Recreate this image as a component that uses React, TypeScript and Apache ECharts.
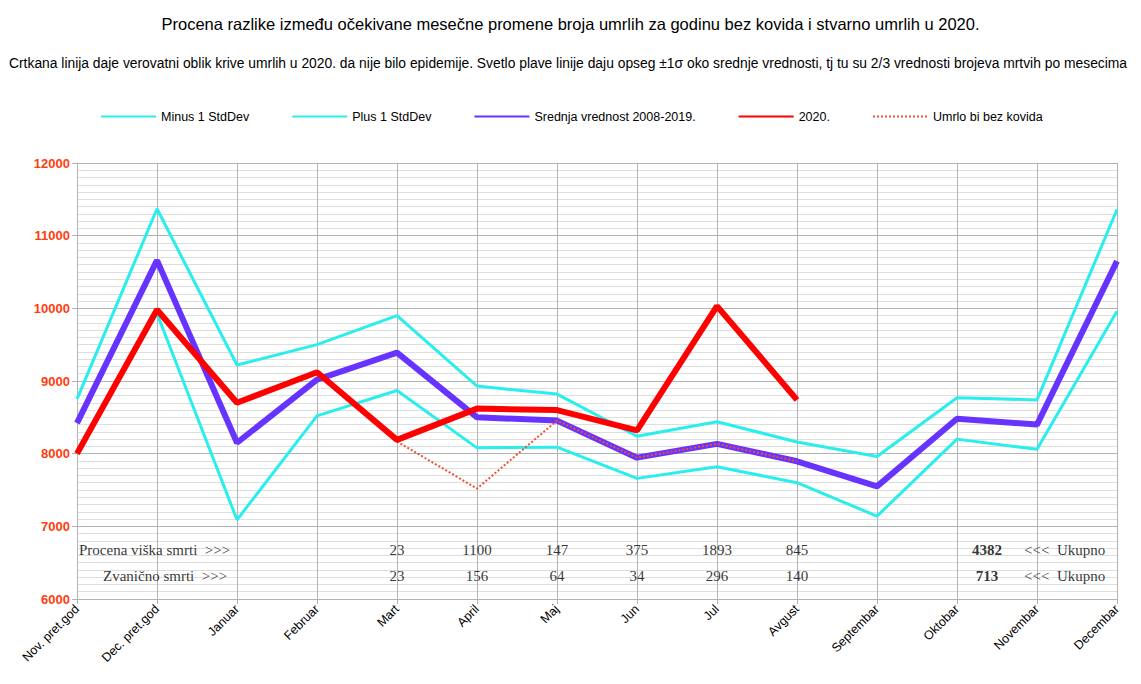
import React, { useEffect, useRef } from "react";
import * as echarts from "echarts";

const categories = [
  "Nov. pret.god", "Dec. pret.god", "Januar", "Februar", "Mart", "April", "Maj",
  "Jun", "Jul", "Avgust", "Septembar", "Oktobar", "Novembar", "Decembar",
];
const minus1 = [8020, 9930, 7090, 8520, 8870, 8080, 8090, 7660, 7820, 7600, 7140, 8200, 8060, 9960];
const plus1 = [8750, 11370, 9220, 9500, 9900, 8930, 8820, 8240, 8440, 8160, 7960, 8770, 8740, 11360];
const mean = [8420, 10660, 8150, 9020, 9390, 8500, 8455, 7945, 8135, 7895, 7550, 8480, 8400, 10650];
const y2020 = [8000, 9980, 8700, 9120, 8190, 8620, 8600, 8320, 10030, 8740, null, null, null, null];
const noCovid = [null, null, null, null, 8167, 7520, 8455, 7945, 8135, 7895, null, null, null, null];

const excessLabels = ["", "", "", "", "23", "1100", "147", "375", "1893", "845", "", "", "", ""];
const officialLabels = ["", "", "", "", "23", "156", "64", "34", "296", "140", "", "", "", ""];
const excessTotal = "4382";
const officialTotal = "713";
const row1Value = 6675;
const row2Value = 6320;

const title = "Procena razlike između očekivane mesečne promene broja umrlih za godinu bez kovida i stvarno umrlih u 2020.";
const subtitle = "Crtkana linija daje verovatni oblik krive umrlih u 2020. da nije bilo epidemije. Svetlo plave linije daju opseg ±1σ oko srednje vrednosti, tj tu su 2/3 vrednosti brojeva mrtvih po mesecima";

export default function App() {
  const ref = useRef<HTMLDivElement>(null);
  useEffect(() => {
    const chart = echarts.init(ref.current!, null, { renderer: "svg" });
    const serif = "'Liberation Serif', 'DejaVu Serif', serif";
    const sans = "'Liberation Sans', Arial, sans-serif";
    const numData = (labels: string[], v: number) =>
      labels.map((l, i) => (l ? { value: [categories[i], v], label: { formatter: l } } : null)).filter(Boolean);
    chart.setOption({
      animation: false,
      backgroundColor: "#ffffff",
      textStyle: { fontFamily: sans },
      title: [
        { text: title, left: "center", top: 10, textStyle: { fontSize: 16.5, fontWeight: "normal", color: "#000", fontFamily: sans } },
        { text: subtitle, left: 4, top: 51, textStyle: { fontSize: 13.85, fontWeight: "normal", color: "#000", fontFamily: sans } },
      ],
      legend: {
        left: 95,
        top: 105,
        itemWidth: 55,
        itemHeight: 14,
        itemGap: 42,
        itemStyle: { opacity: 0 },
        textStyle: { fontSize: 12.5, color: "#000", fontFamily: sans },
        data: ["Minus 1 StdDev", "Plus 1 StdDev", "Srednja vrednost 2008-2019.", "2020.", "Umrlo bi bez kovida"],
      },
      grid: { left: 77, right: 24, top: 163, bottom: 85 },
      xAxis: {
        type: "category",
        data: categories,
        boundaryGap: false,
        axisLine: { lineStyle: { color: "#b3b3b3" } },
        axisTick: { show: true, length: 5, lineStyle: { color: "#b3b3b3" } },
        axisLabel: { rotate: 45, fontSize: 12.5, color: "#000", margin: 8, fontFamily: sans },
        splitLine: { show: true, lineStyle: { color: "#b3b3b3" } },
      },
      yAxis: {
        type: "value",
        min: 6000,
        max: 12000,
        interval: 1000,
        axisLine: { show: true, lineStyle: { color: "#b3b3b3" } },
        axisTick: { show: true, length: 5, lineStyle: { color: "#b3b3b3" } },
        axisLabel: { fontSize: 13, color: "#ff3d0f", fontWeight: "bold", margin: 7, fontFamily: sans, formatter: (v: number) => String(v) },
        splitLine: { show: true, lineStyle: { color: "#b3b3b3" } },
        minorTick: { show: false, splitNumber: 10 },
        minorSplitLine: { show: true, lineStyle: { color: "#dedede" } },
      },
      series: [
        { name: "Minus 1 StdDev", type: "line", data: minus1, symbol: "none", lineStyle: { color: "#2aeeee", width: 3 }, itemStyle: { color: "#2aeeee" }, z: 2 },
        { name: "Plus 1 StdDev", type: "line", data: plus1, symbol: "none", lineStyle: { color: "#2aeeee", width: 3 }, itemStyle: { color: "#2aeeee" }, z: 2 },
        { name: "Srednja vrednost 2008-2019.", type: "line", data: mean, symbol: "none", lineStyle: { color: "#6633ff", width: 6 }, itemStyle: { color: "#6633ff" }, z: 3 },
        { name: "2020.", type: "line", data: y2020, symbol: "none", lineStyle: { color: "#ff0000", width: 6 }, itemStyle: { color: "#ff0000" }, z: 5 },
        { name: "Umrlo bi bez kovida", type: "line", data: noCovid, symbol: "none", lineStyle: { color: "#f0502e", width: 2, type: [2, 2] }, itemStyle: { color: "#f0502e" }, z: 4 },
        {
          type: "scatter",
          symbolSize: 0,
          silent: true,
          data: numData(excessLabels, row1Value),
          label: { show: true, position: "inside", color: "#000", fontSize: 15, fontFamily: serif },
          z: 6,
        },
        {
          type: "scatter",
          symbolSize: 0,
          silent: true,
          data: numData(officialLabels, row2Value),
          label: { show: true, position: "inside", color: "#000", fontSize: 15, fontFamily: serif },
          z: 6,
        },
        {
          type: "scatter",
          symbolSize: 0,
          silent: true,
          data: [
            { value: ["Nov. pret.god", row1Value], label: { formatter: "Procena viška smrti  >>>", offset: [2, 0] } },
            { value: ["Nov. pret.god", row2Value], label: { formatter: "Zvanično smrti  >>>", offset: [26, 0] } },
          ],
          label: { show: true, position: "inside", align: "left", color: "#000", fontSize: 15, fontFamily: serif },
          z: 6,
        },
        {
          type: "scatter",
          symbolSize: 0,
          silent: true,
          data: [
            { value: ["Oktobar", row1Value], label: { formatter: excessTotal, offset: [30, 0] } },
            { value: ["Oktobar", row2Value], label: { formatter: officialTotal, offset: [30, 0] } },
          ],
          label: { show: true, position: "inside", color: "#000", fontSize: 15, fontWeight: "bold", fontFamily: serif },
          z: 6,
        },
        {
          type: "scatter",
          symbolSize: 0,
          silent: true,
          data: [
            { value: ["Novembar", row1Value], label: { formatter: "<<<  Ukupno", offset: [-13, 0] } },
            { value: ["Novembar", row2Value], label: { formatter: "<<<  Ukupno", offset: [-13, 0] } },
          ],
          label: { show: true, position: "inside", align: "left", color: "#000", fontSize: 15, fontFamily: serif },
          z: 6,
        },
      ],
    });
    return () => chart.dispose();
  }, []);
  return <div ref={ref} style={{ width: 1141, height: 684, position: "absolute", left: 0, top: 0 }} />;
}
